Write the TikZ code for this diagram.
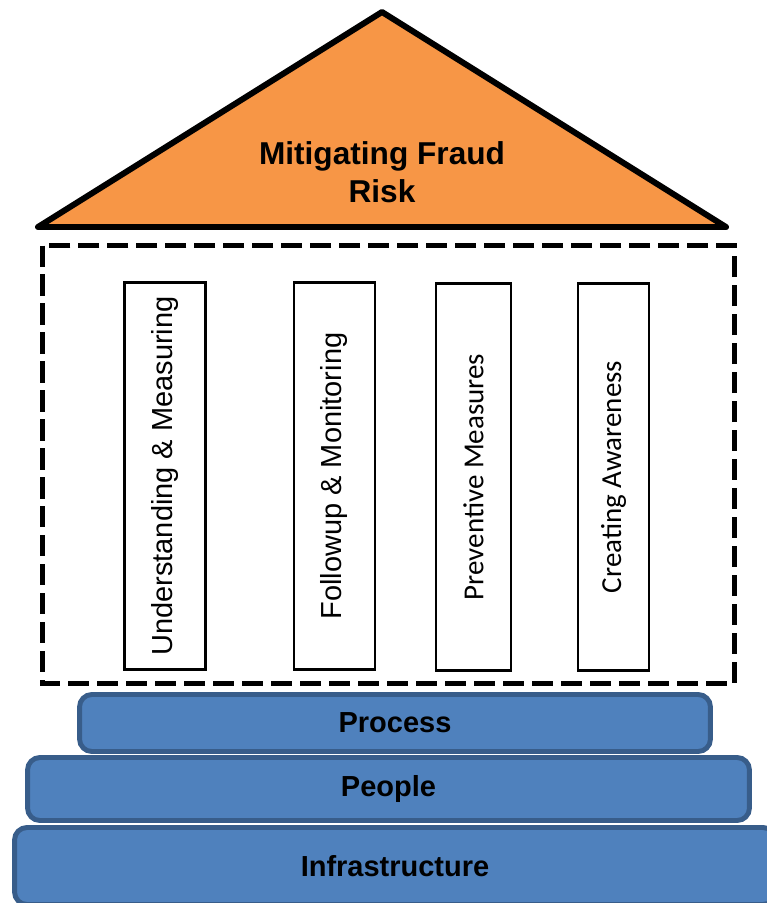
\documentclass[tikz,border=0pt]{standalone}
\usepackage{fontspec}
\setmainfont{Liberation Sans}
\newfontfamily\calibri{Carlito}
\definecolor{rooffill}{HTML}{F79646}
\definecolor{layerfill}{HTML}{4F81BD}
\definecolor{layerline}{HTML}{385D8A}
\tikzset{
  pillar/.style={draw, line width=1.6pt, rotate=90, inner sep=0pt,
    minimum width=7.74cm, font=\fontsize{16.5}{20}\selectfont},
  layer/.style={draw=layerline, fill=layerfill, line width=2.8pt,
    rounded corners=7pt, font=\bfseries\fontsize{16.5}{20}\selectfont},
}
\begin{document}
\begin{tikzpicture}[x=0.02cm,y=-0.02cm]
    \useasboundingbox (0,0) rectangle (767,903);
    % roof
    \draw[fill=rooffill, line width=3.4pt, line join=round]
      (382,12) -- (38,227) -- (726,227) -- cycle;
    \node[align=center, font=\bfseries\fontsize{18}{21.6}\selectfont] (roof) at (382,172) {Mitigating Fraud\\Risk} ;
    % pillars
    \draw[line width=2.8pt, dash pattern=on 12pt off 4.5pt] (42.5,245.5) rectangle (734.5,683.5) ;
    \node[pillar, minimum height=1.62cm] (measure) at (165,476) {Understanding \& Measuring} ;
    \node[pillar, minimum height=1.62cm] (monitor) at (334.5,476) {Followup \& Monitoring} ;
    \node[pillar, minimum height=1.50cm, font=\calibri\fontsize{16.5}{20}\selectfont] (prevent) at (473.5,477) {Preventive Measures} ;
    \node[pillar, minimum height=1.42cm, font=\calibri\fontsize{16.5}{20}\selectfont] (aware) at (613.5,477) {Creating Awareness} ;
    % base
    \node[layer, minimum width=12.62cm, minimum height=1.14cm] (process) at (395,723) {Process} ;
    \node[layer, minimum width=14.44cm, minimum height=1.26cm] (people) at (388.5,789) {People} ;
    \node[layer, minimum width=15.22cm, minimum height=1.54cm] (infra) at (395,866) {Infrastructure} ;
  \end{tikzpicture}
\end{document}
